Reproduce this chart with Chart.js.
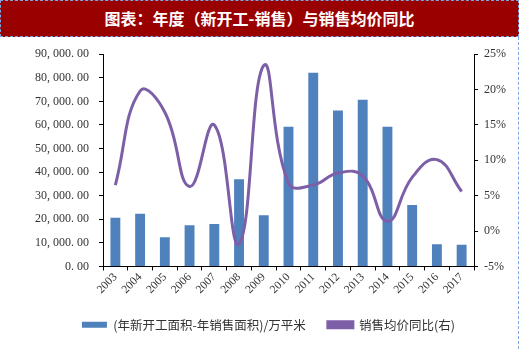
<!DOCTYPE html>
<html>
<head>
<meta charset="utf-8">
<script src="https://cdn.jsdelivr.net/npm/chart.js@4"></script>
<style>
  html, body { margin: 0; padding: 0; background: #fff; }
  #wrap { position: relative; width: 520px; height: 349px; overflow: hidden; }
  #title {
    position: absolute; left: 0; top: 0; width: 517px; height: 35px;
    background: #990000; color: #fff; border: 1px dashed #7fa6dc;
    font: bold 16px "Noto Sans CJK SC", sans-serif;
    text-align: center; line-height: 35px;
  }
  #edge { position: absolute; right: 1px; top: 37px; height: 312px; border-right: 1px dashed #7fa6dc; }
  #box { position: absolute; left: 0; top: 37px; width: 518px; height: 312px; }
</style>
</head>
<body>
<div id="wrap">
  <div id="title">图表：年度（新开工-销售）与销售均价同比</div>
  <div id="edge"></div>
  <div id="box"><canvas id="chart"></canvas></div>
</div>
<script>
const years = ["2003", "2004", "2005", "2006", "2007", "2008", "2009", "2010",
  "2011", "2012", "2013", "2014", "2015", "2016", "2017"];
// (年新开工面积-年销售面积)/万平米
const areaGap = [20700, 22400, 12400, 17500, 18000, 37000, 21700, 59200,
  82100, 66100, 70700, 59200, 26100, 9400, 9200];
// 销售均价同比，%
const priceYoY = [6.5, 19.8, 16.8, 6.3, 15.0, -1.8, 23.4, 6.8,
  6.5, 8.2, 7.8, 1.4, 7.6, 10.1, 5.6];

const serif = "'Liberation Serif', 'Noto Sans CJK SC', serif";

function fmtNum(v) {
  const s = v.toLocaleString("en-US", { minimumFractionDigits: 2, maximumFractionDigits: 2 });
  return s.replace(/,/g, ", ").replace(/\./g, ". ");
}

new Chart(document.getElementById("chart"), {
  data: {
    labels: years,
    datasets: [
      {
        type: "line",
        label: "销售均价同比(右)",
        data: priceYoY,
        yAxisID: "y1",
        borderColor: "#7d5fa8",
        backgroundColor: "#7d5fa8",
        borderWidth: 3,
        pointRadius: 0,
        tension: 0.45,
        order: 1,
      },
      {
        type: "bar",
        label: "(年新开工面积-年销售面积)/万平米",
        data: areaGap,
        yAxisID: "y",
        backgroundColor: "#4f81bd",
        borderColor: "#4f81bd",
        categoryPercentage: 0.8,
        barPercentage: 0.5,
        order: 2,
      },
    ],
  },
  options: {
    responsive: true,
    maintainAspectRatio: false,
    animation: false,
    layout: { padding: { top: 12, left: 25, right: 6, bottom: 8 } },
    plugins: {
      tooltip: { enabled: false },
      legend: {
        position: "bottom",
        reverse: true,
        labels: {
          boxWidth: 25,
          boxHeight: 6,
          padding: 22,
          color: "#333",
          font: { family: "'Noto Sans CJK SC', sans-serif", size: 12.5 },
        },
      },
    },
    scales: {
      x: {
        grid: { display: true, drawOnChartArea: false, drawTicks: true, tickLength: 4, color: "#000", offset: true },
        border: { display: true, color: "#000", width: 1 },
        ticks: {
          minRotation: 45,
          maxRotation: 45,
          color: "#333",
          padding: 0,
          font: { family: serif, size: 11.5 },
        },
      },
      y: {
        position: "left",
        min: 0,
        max: 90000,
        grid: { display: true, drawOnChartArea: false, drawTicks: true, tickLength: 4, color: "#000" },
        border: { display: true, color: "#000", width: 1 },
        ticks: {
          stepSize: 10000,
          color: "#333",
          padding: 10,
          font: { family: serif, size: 12 },
          callback: (v) => fmtNum(v),
        },
      },
      y1: {
        position: "right",
        min: -5,
        max: 25,
        grid: { display: true, drawOnChartArea: false, drawTicks: true, tickLength: 4, color: "#000" },
        border: { display: true, color: "#000", width: 1 },
        ticks: {
          stepSize: 5,
          color: "#333",
          padding: 6,
          font: { family: serif, size: 12 },
          callback: (v) => v + "%",
        },
      },
    },
  },
});
</script>
</body>
</html>
